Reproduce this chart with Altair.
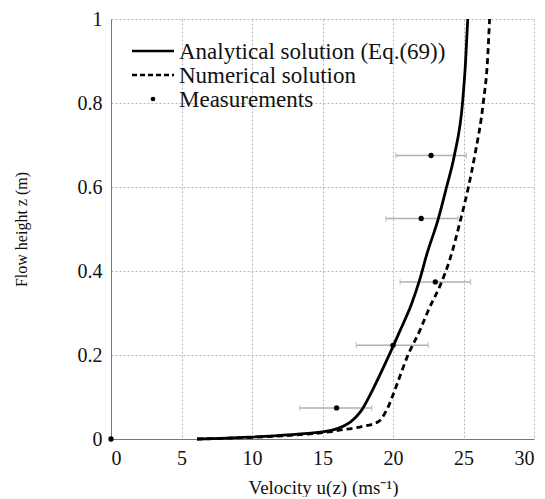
import altair as alt
import pandas as pd

# Analytical solution (Eq.(69))
ana_u = [6.1, 15.0, 17.0, 17.7, 18.6, 19.55, 20.5, 21.3, 21.9, 22.4, 23.2, 23.8, 24.35, 24.93, 25.15, 25.3]
ana_z = [0.0, 0.017, 0.041, 0.065, 0.12, 0.187, 0.258, 0.32, 0.38, 0.44, 0.523, 0.6, 0.675, 0.8, 0.9, 1.0]

# Numerical solution
num_u = [6.1, 15.0, 16.2, 17.7, 18.95, 19.55, 20.3, 21.0, 21.9, 22.5, 23.45, 24.0, 24.8, 25.35, 25.8, 26.4, 26.7, 26.85]
num_z = [0.0, 0.015, 0.021, 0.029, 0.041, 0.069, 0.132, 0.195, 0.258, 0.306, 0.374, 0.424, 0.523, 0.6, 0.675, 0.8, 0.9, 1.0]

# Measurements with error ranges
meas_u = [0.0, 16.0, 20.0, 23.0, 22.0, 22.7]
meas_z = [0.0, 0.074, 0.223, 0.374, 0.525, 0.675]
meas_lo = [None, 13.4, 17.4, 20.5, 19.5, 20.2]
meas_hi = [None, 18.5, 22.5, 25.5, 24.6, 25.2]

legend_labels = ["Analytical solution (Eq.(69))", "Numerical solution", "Measurements"]

x_ticks = [0, 5, 10, 15, 20, 25, 30]
y_ticks = [0, 0.2, 0.4, 0.6, 0.8, 1.0]

FONT = "Liberation Serif"

ana = pd.DataFrame({"u": ana_u, "z": ana_z})
num = pd.DataFrame({"u": num_u, "z": num_z})
meas = pd.DataFrame({"u": meas_u, "z": meas_z, "lo": meas_lo, "hi": meas_hi})
err = meas.dropna()

xs = alt.Scale(domain=[0, 30], nice=False)
ys = alt.Scale(domain=[0, 1], nice=False)

xax = alt.Axis(values=x_ticks, title="Velocity u(z) (ms⁻¹)", grid=True, titleFontSize=19,
               titleX=212, titleY=48, titleAlign="center", titleBaseline="middle")
yax = alt.Axis(values=y_ticks, title="Flow height z (m)", grid=True, titleFontSize=16,
               labelExpr="format(datum.value, '~g')",
               titleX=-90, titleY=210, titleAngle=-90, titleAlign="center", titleBaseline="middle")

base_x = alt.X("u:Q", scale=xs, axis=xax)
base_y = alt.Y("z:Q", scale=ys, axis=yax)

ana_line = alt.Chart(ana).mark_line(color="black", strokeWidth=2.8, interpolate="monotone").encode(
    x=base_x, y=base_y, order="z:Q")
num_line = alt.Chart(num).mark_line(color="black", strokeWidth=2.8, strokeDash=[6, 4],
                                    interpolate="monotone").encode(
    x=alt.X("u:Q", scale=xs), y=alt.Y("z:Q", scale=ys), order="z:Q")

err_rule = alt.Chart(err).mark_rule(color="#b0b0b0", strokeWidth=1.5).encode(
    x=alt.X("lo:Q", scale=xs), x2="hi:Q", y=alt.Y("z:Q", scale=ys))
cap_lo = alt.Chart(err).mark_tick(color="#b0b0b0", orient="vertical", size=6, thickness=1.2).encode(
    x=alt.X("lo:Q", scale=xs), y=alt.Y("z:Q", scale=ys))
cap_hi = alt.Chart(err).mark_tick(color="#b0b0b0", orient="vertical", size=6, thickness=1.2).encode(
    x=alt.X("hi:Q", scale=xs), y=alt.Y("z:Q", scale=ys))
pts = alt.Chart(meas).mark_circle(color="black", size=28, opacity=1).encode(
    x=alt.X("u:Q", scale=xs), y=alt.Y("z:Q", scale=ys))

one = alt.Data(values=[{"a": 1}])
leg_solid = alt.Chart(one).mark_rule(color="black", strokeWidth=2.6).encode(
    x=alt.value(21), x2=alt.value(63), y=alt.value(32))
leg_dash = alt.Chart(one).mark_rule(color="black", strokeWidth=2.6, strokeDash=[5, 3]).encode(
    x=alt.value(21), x2=alt.value(63), y=alt.value(56))
leg_dot = alt.Chart(one).mark_circle(color="black", size=22, opacity=1).encode(
    x=alt.value(42), y=alt.value(80))
leg_texts = [
    alt.Chart(one).mark_text(align="left", baseline="middle", font=FONT, fontSize=23, color="#111").encode(
        x=alt.value(68), y=alt.value(33 + 24 * i), text=alt.value(lbl))
    for i, lbl in enumerate(legend_labels)
]

chart = alt.layer(err_rule, cap_lo, cap_hi, ana_line, num_line, pts,
                  leg_solid, leg_dash, leg_dot, *leg_texts).properties(
    width=423, height=420,
    autosize=alt.AutoSizeParams(type="none"),
    padding={"left": 103, "top": 11, "right": 3, "bottom": 58},
).configure_view(stroke=None).configure_axis(
    labelFont=FONT, titleFont=FONT, labelFontSize=20,
    labelColor="#111", titleColor="#111", titleFontWeight="normal",
    gridColor="#b5b5b5", gridDash=[2, 2], gridWidth=1,
    domainColor="#777", ticks=False,
    labelPadding=9,
)

chart.save("out.html", embed_options={"renderer": "svg", "actions": False})
